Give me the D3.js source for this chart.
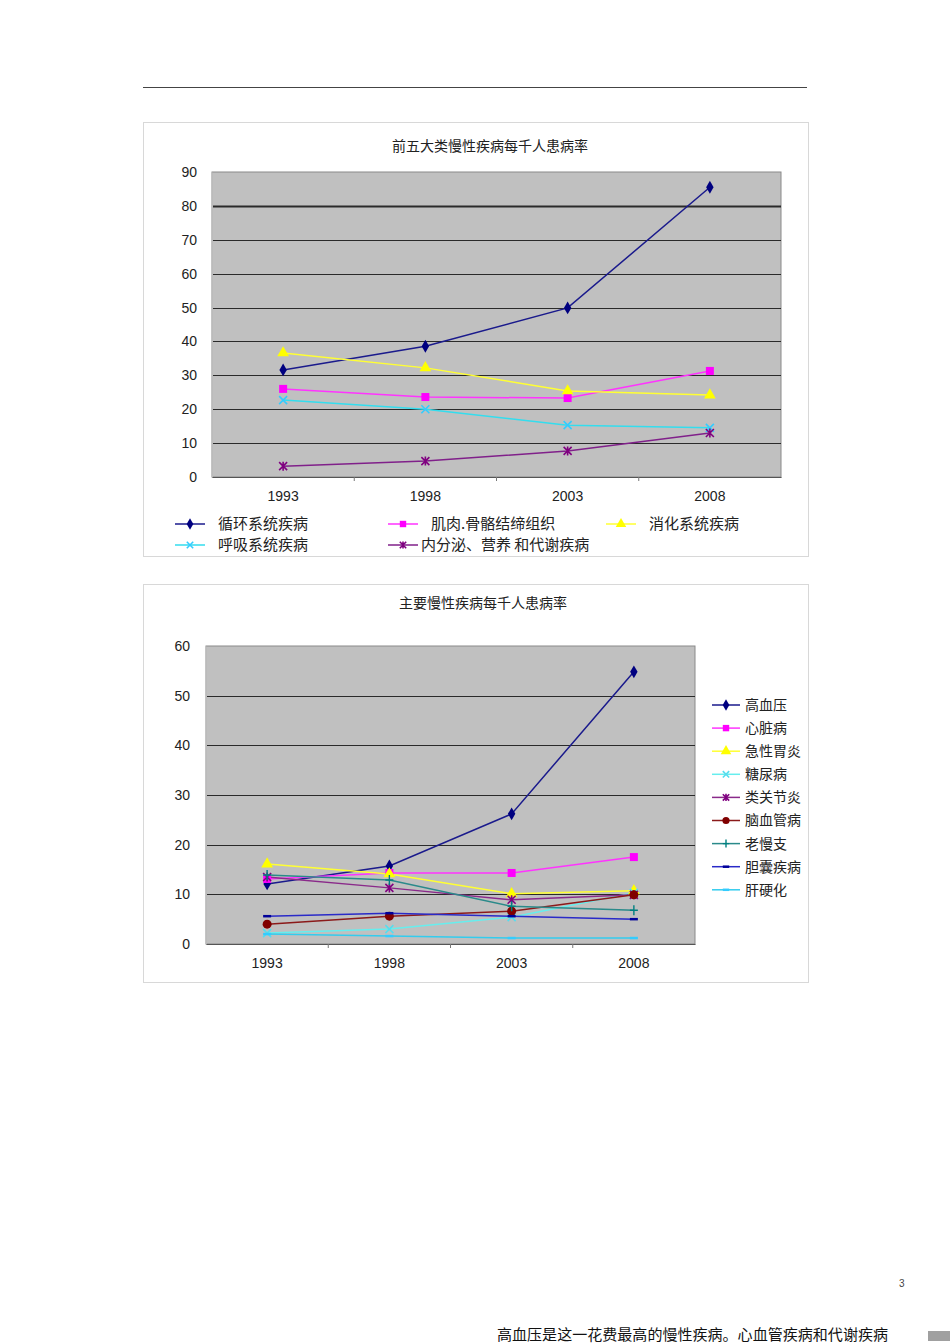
<!DOCTYPE html>
<html><head><meta charset="utf-8">
<script src="https://cdn.jsdelivr.net/npm/d3@7"></script>
<style>body{margin:0;background:#fff;}svg{display:block;}</style>
</head><body>
<script>
// ---------- DATA ----------
const years = ["1993","1998","2003","2008"];

const chart1Title = "前五大类慢性疾病每千人患病率";
const chart1Ticks = [0,10,20,30,40,50,60,70,80,90];
const chart1Names = ["循环系统疾病","肌肉.骨骼结缔组织","消化系统疾病","呼吸系统疾病","内分泌、营养 和代谢疾病"];
const c1_circulatory = [31.6, 38.6, 49.9, 85.5];
const c1_musculo     = [26.0, 23.6, 23.3, 31.3];
const c1_digestive   = [36.6, 32.2, 25.4, 24.2];
const c1_respiratory = [22.7, 20.0, 15.3, 14.5];
const c1_endocrine   = [3.2, 4.7, 7.7, 13.0];

const chart2Title = "主要慢性疾病每千人患病率";
const chart2Ticks = [0,10,20,30,40,50,60];
const chart2Names = ["高血压","心脏病","急性胃炎","糖尿病","类关节炎","脑血管病","老慢支","胆囊疾病","肝硬化"];
const c2_hypertension = [12.1, 15.7, 26.2, 54.8];
const c2_heart        = [13.1, 14.3, 14.3, 17.5];
const c2_gastritis    = [16.1, 14.1, 10.1, 10.7];
const c2_diabetes     = [2.2, 3.0, 5.4, 10.3];
const c2_arthritis    = [13.5, 11.3, 8.9, 9.9];
const c2_cerebro      = [4.0, 5.6, 6.6, 9.9];
const c2_bronchitis   = [13.9, 12.9, 7.6, 6.8];
const c2_gallbladder  = [5.6, 6.2, 5.6, 5.0];
const c2_cirrhosis    = [2.0, 1.6, 1.2, 1.2];

const footerText = "高血压是这一花费最高的慢性疾病。心血管疾病和代谢疾病";
const pageNumber = "3";

// ---------- DRAW ----------
const W = 950, H = 1344;
const svg = d3.select("body").append("svg").attr("width", W).attr("height", H);
const numFont = "'Liberation Sans', Arial, sans-serif";
const cjkFont = "'Noto Sans CJK SC', sans-serif";

svg.append("line").attr("x1",143).attr("x2",807).attr("y1",87.5).attr("y2",87.5)
  .attr("stroke","#444").attr("stroke-width",1);

function marker(g, type, color, x, y, s) {
  s = s || 1;
  const m = g.append("g").attr("transform", `translate(${x},${y})`);
  if (type === "diamond") {
    m.append("path").attr("d", d3.symbol().type(d3.symbolDiamond).size(48*s)()).attr("fill", color);
  } else if (type === "square") {
    m.append("rect").attr("x",-4*s).attr("y",-4*s).attr("width",8*s).attr("height",8*s).attr("fill",color);
  } else if (type === "triangle") {
    m.append("path").attr("d", d3.symbol().type(d3.symbolTriangle).size(60*s)()).attr("fill", color);
  } else if (type === "circle") {
    m.append("circle").attr("r",4.5*s).attr("fill",color);
  } else if (type === "x") {
    m.append("path").attr("d",`M${-4*s},${-4*s}L${4*s},${4*s}M${-4*s},${4*s}L${4*s},${-4*s}`)
      .attr("stroke",color).attr("stroke-width",1.6);
  } else if (type === "star") {
    m.append("path").attr("d",`M${-4*s},${-4*s}L${4*s},${4*s}M${-4*s},${4*s}L${4*s},${-4*s}M0,${-4.5*s}L0,${4.5*s}`)
      .attr("stroke",color).attr("stroke-width",1.6);
  } else if (type === "plus") {
    m.append("path").attr("d",`M${-4*s},0L${4*s},0M0,${-5*s}L0,${5*s}`)
      .attr("stroke",color).attr("stroke-width",1.4);
  } else if (type === "dash") {
    m.append("path").attr("d",`M${-4*s},0L${4*s},0`).attr("stroke",color).attr("stroke-width",2.5);
  }
}

function drawChart(cfg) {
  const g = svg.append("g");
  g.append("rect").attr("x",cfg.box[0]+0.5).attr("y",cfg.box[1]+0.5)
    .attr("width",cfg.box[2]-cfg.box[0]).attr("height",cfg.box[3]-cfg.box[1])
    .attr("fill","#fff").attr("stroke","#d8d8d8").attr("stroke-width",1);
  g.append("text").attr("x",cfg.titleX).attr("y",cfg.titleY).attr("text-anchor","middle")
    .attr("font-family",cjkFont).attr("font-size",14).attr("fill","#222").text(cfg.title);

  const [L,T,R,B] = cfg.plot;
  const x = d3.scaleBand().domain(years).range([L,R]);
  const y = d3.scaleLinear().domain([0, d3.max(cfg.ticks)]).range([B,T]);

  g.append("rect").attr("x",L).attr("y",T).attr("width",R-L).attr("height",B-T)
    .attr("fill","#c0c0c0").attr("stroke","#8a8a8a").attr("stroke-width",1);

  g.append("g").selectAll("line").data(cfg.ticks.filter(t=>t>0 && t<d3.max(cfg.ticks))).join("line")
    .attr("x1",L).attr("x2",R).attr("y1",d=>Math.round(y(d))+0.5).attr("y2",d=>Math.round(y(d))+0.5)
    .attr("stroke","#2a2a2a").attr("stroke-width",d=>cfg.thick===d?2:1.2);

  const ya = g.append("g").attr("transform",`translate(${L},0)`)
    .call(d3.axisLeft(y).tickValues(cfg.ticks).tickSize(0).tickPadding(cfg.yPad));
  ya.select(".domain").attr("stroke","#bbb");
  ya.selectAll("text").attr("font-family",numFont).attr("font-size",14).attr("fill","#222");

  const xa = g.append("g").attr("transform",`translate(0,${B})`)
    .call(d3.axisBottom(x).tickSize(0).tickPadding(cfg.xPad));
  xa.select(".domain").attr("stroke","#555").attr("stroke-width",1.2);
  xa.selectAll("text").attr("font-family",numFont).attr("font-size",14).attr("fill","#222");
  g.append("g").selectAll("line").data(years.slice(1)).join("line")
    .attr("x1",d=>x(d)).attr("x2",d=>x(d)).attr("y1",B).attr("y2",B+4)
    .attr("stroke","#777");

  const cx = d => x(d) + x.bandwidth()/2;
  const line = d3.line().x((d,i)=>cx(years[i])).y(d=>y(d));

  cfg.series.forEach(s => {
    g.append("path").datum(s.values).attr("d",line).attr("fill","none")
      .attr("stroke",s.color).attr("stroke-width",1.5);
  });
  cfg.series.forEach(s => {
    s.values.forEach((v,i)=> marker(g, s.marker, s.mcolor||s.color, cx(years[i]), y(v)));
  });

  cfg.series.forEach((s,i) => {
    const [lx,ly,gap] = cfg.legendPos(i);
    g.append("line").attr("x1",lx).attr("x2",lx+cfg.legLen).attr("y1",ly).attr("y2",ly)
      .attr("stroke",s.color).attr("stroke-width",1.5);
    marker(g, s.marker, s.mcolor||s.color, lx+cfg.legLen/2, ly, 0.8);
    g.append("text").attr("x",lx+cfg.legLen+(gap==null?cfg.legGap:gap)).attr("y",ly).attr("dy","0.35em")
      .attr("font-family",cjkFont).attr("font-size",cfg.legFont).attr("fill","#222").text(s.name);
  });
}

drawChart({
  box:[143,122,808,556], title:chart1Title, titleX:490, titleY:151,
  plot:[212,172,781,477], ticks:chart1Ticks, thick:80, yPad:15, xPad:14,
  series:[
    {name:chart1Names[0], values:c1_circulatory, color:"#1a1a8c", mcolor:"#000080", marker:"diamond"},
    {name:chart1Names[1], values:c1_musculo, color:"#ff33ff", mcolor:"#ff00ff", marker:"square"},
    {name:chart1Names[2], values:c1_digestive, color:"#ffff33", mcolor:"#ffff00", marker:"triangle"},
    {name:chart1Names[3], values:c1_respiratory, color:"#33ddee", mcolor:"#33ccff", marker:"x"},
    {name:chart1Names[4], values:c1_endocrine, color:"#80208a", mcolor:"#800080", marker:"star"}
  ],
  legLen:30, legGap:13, legFont:15,
  legendPos: i => [[175,524],[388,524],[606,524],[175,545],[388,545,3]][i]
});

drawChart({
  box:[143,584,808,982], title:chart2Title, titleX:483, titleY:608,
  plot:[206,646,695,944], ticks:chart2Ticks, thick:null, yPad:16, xPad:14,
  series:[
    {name:chart2Names[0], values:c2_hypertension, color:"#1a1a8c", mcolor:"#000080", marker:"diamond"},
    {name:chart2Names[1], values:c2_heart, color:"#ff33ff", mcolor:"#ff00ff", marker:"square"},
    {name:chart2Names[2], values:c2_gastritis, color:"#ffff33", mcolor:"#ffff00", marker:"triangle"},
    {name:chart2Names[3], values:c2_diabetes, color:"#66eeee", mcolor:"#55ddee", marker:"x"},
    {name:chart2Names[4], values:c2_arthritis, color:"#8a2a8a", mcolor:"#800080", marker:"star"},
    {name:chart2Names[5], values:c2_cerebro, color:"#8b1a1a", mcolor:"#800000", marker:"circle"},
    {name:chart2Names[6], values:c2_bronchitis, color:"#2a8a8a", mcolor:"#008080", marker:"plus"},
    {name:chart2Names[7], values:c2_gallbladder, color:"#2a2ac8", mcolor:"#000099", marker:"dash"},
    {name:chart2Names[8], values:c2_cirrhosis, color:"#33ccee", mcolor:"#33ccff", marker:"dash"}
  ],
  legLen:28, legGap:5, legFont:14,
  legendPos: i => [712, 705 + i*23.1]
});

// footer
svg.append("text").attr("x",899).attr("y",1287).attr("font-family",numFont).attr("font-size",10)
  .attr("fill","#444").text(pageNumber);
svg.append("text").attr("x",497).attr("y",1340).attr("font-family",cjkFont).attr("font-size",15.2)
  .attr("textLength",391).attr("lengthAdjust","spacingAndGlyphs")
  .attr("fill","#111").text(footerText);
svg.append("rect").attr("x",928).attr("y",1331).attr("width",22).attr("height",10).attr("fill","#a0a0a0");
</script>
</body></html>
